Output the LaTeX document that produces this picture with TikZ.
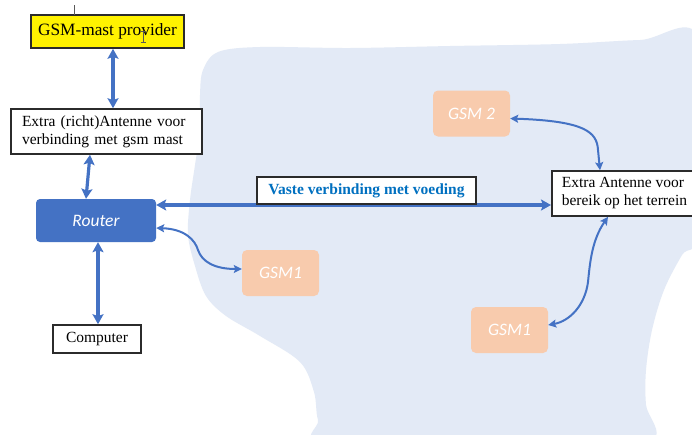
\documentclass[tikz,border=0pt]{standalone}
\usepackage{fontspec}
\setmainfont{Liberation Serif}
\newfontfamily\carl{Carlito}
\usetikzlibrary{arrows.meta,calc}
\definecolor{arrowblue}{HTML}{4472C4}
\definecolor{blob}{HTML}{E3EAF6}
\definecolor{peach}{HTML}{F8CBAD}
\definecolor{labelblue}{HTML}{0070C0}
\definecolor{frame}{HTML}{2B2B2B}
\tikzset{
  x=1pt, y=-1pt,
  txt/.style={font=\fontsize{15.5}{18}\selectfont},
  whitebox/.style={draw=frame, line width=1.6pt, fill=white, txt, inner sep=0pt},
  gsm/.style={fill=peach, rounded corners=5pt, minimum width=77pt, minimum height=46pt,
    text=white, font=\carl\itshape\fontsize{17.5}{20}\selectfont, inner sep=0pt},
  bigarrow/.style={draw=arrowblue, line width=3.2pt, {Stealth[length=10pt,width=11pt,inset=2pt]}-{Stealth[length=10pt,width=11pt,inset=2pt]}},
  thinarrow/.style={draw=arrowblue, line width=2pt, {Stealth[length=8pt,width=8pt,inset=1.5pt]}-{Stealth[length=8pt,width=8pt,inset=1.5pt]}},
  artifact/.style={draw=gray!70!black, line width=0.7pt}
}
\begin{document}
\begin{tikzpicture}
\useasboundingbox (0,0) rectangle (692,434);
\fill[white] (0,0) rectangle (692,434);
% terrain blob
\fill[blob] plot[smooth cycle, tension=0.55] coordinates {
  (203,70) (218,52) (260,47) (350,48) (450,46) (560,44) (640,40) (700,40)
  (702,225) (682,255) (664,290) (652,330) (646,370) (646,405) (652,440)
  (560,445) (330,445) (318,420) (314,392) (300,362) (260,336) (226,316)
  (206,296) (195,266) (188,235) (190,200) (195,165) (200,130) (200,95)};

% nodes
\node[whitebox, fill=yellow, minimum width=153pt, minimum height=33pt, font=\fontsize{17.3}{20}\selectfont] (prov) at (107.5,31.5) {GSM-mast provider};
\node[whitebox, minimum width=191pt, minimum height=45pt, text width=169pt, align=left, inner xsep=11pt] (ant) at (106.5,131.5)
  {Extra (richt)Antenne voor\\verbinding met gsm mast};
\node[fill=arrowblue, rounded corners=4pt, minimum width=120pt, minimum height=43pt, text=white,
  font=\carl\itshape\fontsize{17.5}{20}\selectfont] (router) at (96,220.5) {Router};
\node[whitebox, minimum width=88pt, minimum height=28pt] (comp) at (97,339) {Computer};
\node[whitebox, minimum width=143pt, minimum height=45pt, align=left, inner xsep=10pt, anchor=west] (ext) at (551,193.5)
  {Extra Antenne voor\\bereik op het terrein};
\node[gsm] (gsm2) at (471.5,113.5) {GSM 2};
\node[gsm] (gsma) at (280.5,273) {GSM1};
\node[gsm] (gsmb) at (509.5,330) {GSM1};

% connectors
\draw[bigarrow] ([xshift=5.5pt]prov.south) -- ([xshift=6.5pt]ant.north);
\draw[bigarrow] ([xshift=-16.5pt]ant.south) -- ([xshift=-10pt]router.north);
\draw[bigarrow] ([xshift=2pt]router.south) -- ([xshift=1pt]comp.north);
\coordinate (h1) at ([yshift=15.5pt]router.east);
\draw[bigarrow] (h1) -- (h1 -| ext.west);
\node[whitebox, minimum width=219pt, minimum height=27pt, text=labelblue, font=\bfseries\fontsize{15.5}{18}\selectfont] (lab) at (366.5,190.5)
  {Vaste verbinding met voeding};

\draw[thinarrow] ([yshift=-5pt]gsm2.east) .. controls (585,121) and (597,132) .. (598,150) -- (ext.north -| 600,0);
\draw[thinarrow] (ext.south -| 608,0) .. controls (592,240) and (590,262) .. (588,282)
  .. controls (585,305) and (570,321) .. ([yshift=5pt]gsmb.east);
\draw[thinarrow] ([yshift=-7.5pt]router.east) .. controls (185,229) and (195,240) .. (198,250)
  .. controls (202,262) and (215,269) .. ([yshift=4pt]gsma.west);

% screen artifacts (cursor marks)
\coordinate (c1) at (74,5);
\draw[artifact] (c1) -- (74,15);
\coordinate (c2) at (143,31);
\draw[artifact] (c2) -- (143,42) (140.5,31) -- (145.5,31) (140.5,42) -- (145.5,42);
\end{tikzpicture}
\end{document}
